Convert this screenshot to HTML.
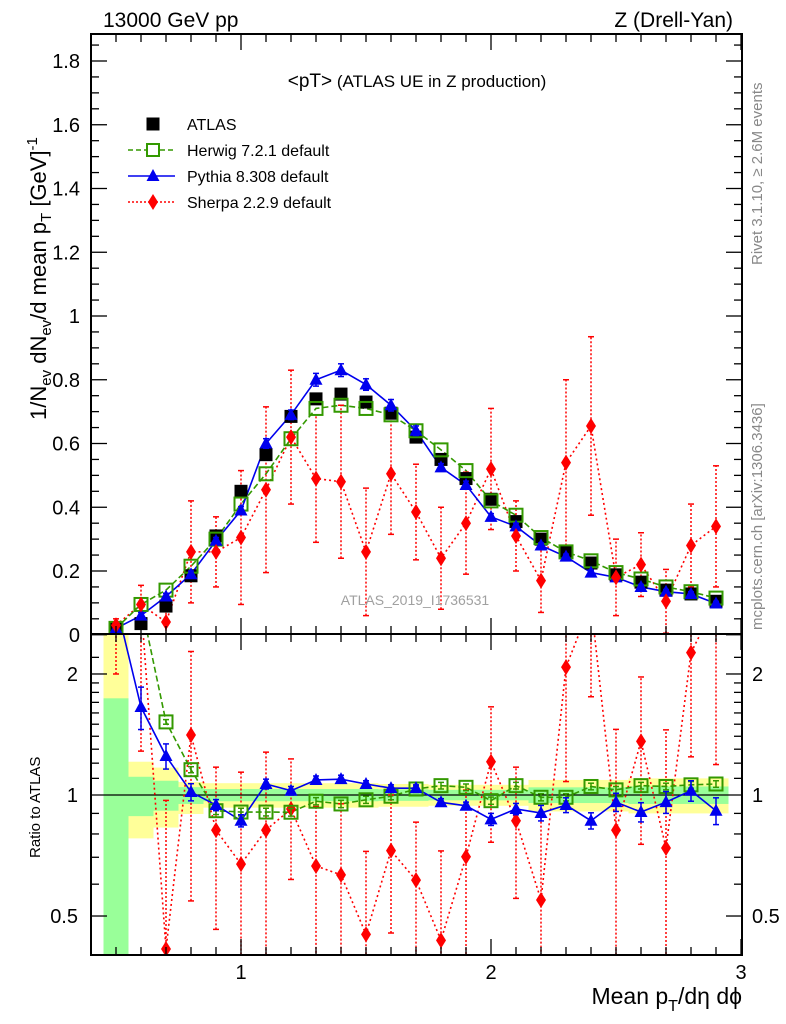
<!DOCTYPE html>
<html><head><meta charset="utf-8">
<style>
html,body{margin:0;padding:0;background:#fff;overflow:hidden;width:786px;height:1024px;}
svg{display:block;font-family:"Liberation Sans",sans-serif;}
</style></head>
<body>
<svg id="chart" width="786" height="1024" viewBox="0 0 786 1024" xmlns="http://www.w3.org/2000/svg">
<g id="bands"></g>
<g id="ratio-series"></g>
<g id="main-series"></g>
<g id="axes"></g>
<text x="103" y="27" font-size="21">13000 GeV pp</text>
<text x="733" y="27" font-size="21" text-anchor="end">Z (Drell-Yan)</text>
<text x="417" y="87" font-size="17" text-anchor="middle"><tspan font-size="19">&lt;pT&gt;</tspan> (ATLAS UE in Z production)</text>
<text x="415" y="605" font-size="14" fill="#a0a0a0" text-anchor="middle">ATLAS_2019_I1736531</text>
<text transform="translate(762,265) rotate(-90)" font-size="15" fill="#888">Rivet 3.1.10, ≥ 2.6M events</text>
<text transform="translate(762,630) rotate(-90)" font-size="15" fill="#888">mcplots.cern.ch [arXiv:1306.3436]</text>
<text transform="translate(46,420) rotate(-90)" font-size="22">1/N<tspan font-size="15" dy="5">ev</tspan><tspan dy="-5"> dN</tspan><tspan font-size="15" dy="5">ev</tspan><tspan dy="-5">/d mean p</tspan><tspan font-size="15" dy="5">T</tspan><tspan dy="-5"> [GeV]</tspan><tspan font-size="15" dy="-9">-1</tspan></text>
<text transform="translate(40,858) rotate(-90)" font-size="15">Ratio to ATLAS</text>
<text x="742" y="1004" font-size="23" text-anchor="end">Mean p<tspan font-size="16" dy="7">T</tspan><tspan dy="-7">/dη dϕ</tspan></text>
<g id="legend"></g>
</svg>
<script>
const categories=[0.5,0.6,0.7,0.8,0.9,1.0,1.1,1.2,1.3,1.4,1.5,1.6,1.7,1.8,1.9,2.0,2.1,2.2,2.3,2.4,2.5,2.6,2.7,2.8,2.9];
const atlasValues=[0.02,0.035,0.09,0.185,0.31,0.45,0.565,0.685,0.74,0.755,0.73,0.695,0.62,0.55,0.49,0.425,0.355,0.30,0.26,0.225,0.188,0.165,0.14,0.128,0.105];
const herwigValues=[0.02,0.095,0.14,0.215,0.30,0.41,0.505,0.615,0.71,0.72,0.71,0.69,0.64,0.58,0.515,0.42,0.375,0.305,0.26,0.232,0.195,0.175,0.15,0.135,0.115];
const pythiaValues=[0.02,0.06,0.12,0.19,0.295,0.39,0.60,0.69,0.80,0.83,0.785,0.72,0.64,0.525,0.47,0.37,0.34,0.28,0.245,0.195,0.18,0.15,0.135,0.128,0.098];
const pythiaErrors=[0.005,0.01,0.01,0.01,0.01,0.012,0.015,0.015,0.02,0.02,0.018,0.018,0.015,0.012,0.012,0.01,0.01,0.008,0.008,0.008,0.008,0.008,0.007,0.007,0.007];
const sherpaValues=[0.03,0.095,0.04,0.26,0.26,0.305,0.455,0.62,0.49,0.48,0.26,0.505,0.385,0.24,0.35,0.52,0.31,0.17,0.54,0.655,0.18,0.22,0.105,0.28,0.34];
const sherpaErrors=[0.02,0.06,0.05,0.16,0.11,0.21,0.26,0.21,0.2,0.24,0.2,0.19,0.15,0.16,0.16,0.19,0.11,0.1,0.26,0.28,0.12,0.1,0.1,0.13,0.19];
const herwigRatio=[3,3,1.52,1.156,0.914,0.907,0.907,0.906,0.965,0.95,0.973,0.993,1.035,1.055,1.045,0.968,1.055,0.987,0.987,1.05,1.03,1.055,1.05,1.06,1.065];
const pythiaRatio=[3,1.655,1.25,1.017,0.944,0.863,1.065,1.025,1.09,1.095,1.065,1.04,1.04,0.959,0.94,0.87,0.923,0.902,0.944,0.863,0.96,0.907,0.96,1.025,0.914];
const pythiaRatioErr=[0.1,0.2,0.09,0.05,0.03,0.03,0.03,0.025,0.025,0.025,0.02,0.02,0.02,0.02,0.02,0.03,0.03,0.04,0.04,0.04,0.05,0.05,0.06,0.06,0.07];
const sherpaRatio=[3,3,0.414,1.41,0.818,0.673,0.818,0.923,0.666,0.633,0.45,0.727,0.614,0.435,0.702,1.21,0.863,0.548,2.08,3,0.818,1.36,0.738,2.26,3];
const yellowHi=[2.6,1.21,1.17,1.077,1.07,1.07,1.07,1.07,1.07,1.07,1.07,1.065,1.065,1.06,1.06,1.06,1.06,1.09,1.09,1.09,1.09,1.1,1.1,1.1,1.1];
const yellowLo=[0.33,0.78,0.83,0.897,0.93,0.93,0.93,0.93,0.93,0.93,0.93,0.935,0.935,0.94,0.94,0.94,0.94,0.91,0.91,0.91,0.91,0.9,0.9,0.9,0.9];
const greenHi=[1.74,1.11,1.085,1.046,1.035,1.035,1.035,1.035,1.035,1.035,1.035,1.033,1.033,1.03,1.03,1.03,1.03,1.045,1.045,1.045,1.045,1.05,1.05,1.05,1.05];
const greenLo=[0.33,0.886,0.914,0.95,0.965,0.965,0.965,0.965,0.965,0.965,0.965,0.967,0.967,0.97,0.97,0.97,0.97,0.955,0.955,0.955,0.955,0.95,0.95,0.95,0.95];
const mainTicks=["0","0.2","0.4","0.6","0.8","1","1.2","1.4","1.6","1.8"];
const ratioTicks=["0.5","1","2"];
const xTicks=["1","2","3"];

const L=91,R=742,T=34,MB=634,RB=955;
const sx=v=>91+(v-0.4)*250;
const sy=v=>634.75-v*318.75;
const ry=r=>795-402*Math.log10(r);
const NS="http://www.w3.org/2000/svg";
function mk(parent,tag,attrs){const e=document.createElementNS(NS,tag);for(const k in attrs)e.setAttribute(k,attrs[k]);parent.appendChild(e);return e;}
const clampR=y=>Math.max(MB,Math.min(RB,y));
const svgEl=document.getElementById('chart');
const defs=mk(svgEl,'defs',{});
const rclip=mk(defs,'clipPath',{id:'rclip'});
mk(rclip,'rect',{x:L,y:MB,width:R-L,height:RB-MB});
const mclip=mk(defs,'clipPath',{id:'mclip'});
mk(mclip,'rect',{x:L,y:T,width:R-L,height:MB-T});

// bands
const gB=document.getElementById('bands');
categories.forEach((c,i)=>{
  let r=mk(gB,'rect',{x:sx(c-0.05),width:25,y:clampR(ry(yellowHi[i])),height:clampR(ry(yellowLo[i]))-clampR(ry(yellowHi[i])),fill:'#ffff99'});
  
  
  let g=mk(gB,'rect',{x:sx(c-0.05),width:25,y:clampR(ry(greenHi[i])),height:clampR(ry(greenLo[i]))-clampR(ry(greenHi[i])),fill:'#99ff99'});
  
  
});

function tri(g,x,y,col){return mk(g,'polygon',{points:`${x},${y-7} ${x-6.5},${y+5} ${x+6.5},${y+5}`,fill:col});}
function dia(g,x,y,col){return mk(g,'polygon',{points:`${x},${y-8} ${x+5},${y} ${x},${y+8} ${x-5},${y}`,fill:col});}
function sq(g,x,y,col,filled){return mk(g,'rect',{x:x-6.5,y:y-6.5,width:13,height:13,fill:filled?col:'none',stroke:col,'stroke-width':filled?0:2});}
function ebar(g,x,y1,y2,col,dash){mk(g,'line',{x1:x,x2:x,y1:y1,y2:y2,stroke:col,'stroke-width':1.5,'stroke-dasharray':dash||'none'});mk(g,'line',{x1:x-3,x2:x+3,y1:y1,y2:y1,stroke:col,'stroke-width':1.5});mk(g,'line',{x1:x-3,x2:x+3,y1:y2,y2:y2,stroke:col,'stroke-width':1.5});}
function line(g,xs,ys,col,dash,w){mk(g,'polyline',{points:xs.map((x,i)=>x+','+ys[i]).join(' '),fill:'none',stroke:col,'stroke-width':w,'stroke-dasharray':dash});}

// ratio panel
const gR=document.getElementById('ratio-series');
gR.setAttribute('clip-path','url(#rclip)');
mk(gR,'line',{x1:L,x2:R,y1:ry(1),y2:ry(1),stroke:'#000','stroke-width':1.3});
line(gR,categories.map(sx),sherpaRatio.map(ry),'#ff0000','2,3',1.6);
line(gR,categories.map(sx),herwigRatio.map(ry),'#339900','6,3',1.6);
line(gR,categories.map(sx),pythiaRatio.map(ry),'#0000ee','none',1.6);
categories.forEach((c,i)=>{
  const x=sx(c);
  const re=sherpaErrors[i]/atlasValues[i];
  ebar(gR,x,ry(Math.max(0.05,sherpaRatio[i]-re)),ry(sherpaRatio[i]+re),'#ff0000','2,2');
  const d=dia(gR,x,ry(sherpaRatio[i]),'#ff0000');
  
  
  ebar(gR,x,ry(herwigRatio[i]-0.02),ry(herwigRatio[i]+0.02),'#339900');
  const s=sq(gR,x,ry(herwigRatio[i]),'#339900',false);
  
  
  ebar(gR,x,ry(pythiaRatio[i]-pythiaRatioErr[i]),ry(pythiaRatio[i]+pythiaRatioErr[i]),'#0000ee');
  const t=tri(gR,x,ry(pythiaRatio[i]),'#0000ee');
  
  
});

// main panel
const gM=document.getElementById('main-series');
gM.setAttribute('clip-path','url(#mclip)');
line(gM,categories.map(sx),sherpaValues.map(sy),'#ff0000','2,3',1.6);
line(gM,categories.map(sx),herwigValues.map(sy),'#339900','6,3',1.6);
line(gM,categories.map(sx),pythiaValues.map(sy),'#0000ee','none',1.6);
categories.forEach((c,i)=>{
  const x=sx(c);
  ebar(gM,x,sy(Math.max(0,sherpaValues[i]-sherpaErrors[i])),sy(sherpaValues[i]+sherpaErrors[i]),'#ff0000','2,2');
  const a=sq(gM,x,sy(atlasValues[i]),'#000',true);
  
  
  const s=sq(gM,x,sy(herwigValues[i]),'#339900',false);
  
  
  ebar(gM,x,sy(pythiaValues[i]-pythiaErrors[i]),sy(pythiaValues[i]+pythiaErrors[i]),'#0000ee');
  const t=tri(gM,x,sy(pythiaValues[i]),'#0000ee');
  
  
  const d=dia(gM,x,sy(sherpaValues[i]),'#ff0000');
  
  
});

// axes
const gA=document.getElementById('axes');
mk(gA,'rect',{x:L,y:T,width:R-L,height:MB-T,fill:'none',stroke:'#000','stroke-width':2});
mk(gA,'rect',{x:L,y:MB,width:R-L,height:RB-MB,fill:'none',stroke:'#000','stroke-width':2});
for(let k=0;k<=37;k++){const v=k*0.05;const y=sy(v);if(y<T)break;const major=(k%4==0);const len=major?16:8;
  mk(gA,'line',{x1:L,x2:L+len,y1:y,y2:y,stroke:'#000','stroke-width':1.3});mk(gA,'line',{x1:R,x2:R-len,y1:y,y2:y,stroke:'#000','stroke-width':1.3});}
mainTicks.forEach(t=>{const e=mk(gA,'text',{x:80,y:sy(parseFloat(t))+7,'font-size':20,'text-anchor':'end'});e.textContent=t;
  
  });
[0.4,0.5,0.6,0.7,0.8,0.9,1.1,1.2,1.3,1.4,1.5,1.6,1.7,1.8,1.9,2,2.2].forEach(r=>{const y=ry(r);if(y<MB||y>RB)return;const major=(r==0.5||r==2);const len=major?16:8;
  mk(gA,'line',{x1:L,x2:L+len,y1:y,y2:y,stroke:'#000','stroke-width':1.3});mk(gA,'line',{x1:R,x2:R-len,y1:y,y2:y,stroke:'#000','stroke-width':1.3});});
ratioTicks.forEach(t=>{const y=ry(parseFloat(t))+7;
  const e=mk(gA,'text',{x:78,y:y,'font-size':20,'text-anchor':'end'});e.textContent=t;
  
  
  const e2=mk(gA,'text',{x:752,y:y,'font-size':20});e2.textContent=t;
  
  });
for(let k=5;k<=30;k++){const v=k/10;const x=sx(v);const major=(k%10==0);const len=major?16:8;
  mk(gA,'line',{x1:x,x2:x,y1:T,y2:T+len,stroke:'#000','stroke-width':1.3});
  mk(gA,'line',{x1:x,x2:x,y1:MB,y2:MB-len,stroke:'#000','stroke-width':1.3});
  mk(gA,'line',{x1:x,x2:x,y1:MB,y2:MB+len,stroke:'#000','stroke-width':1.3});
  mk(gA,'line',{x1:x,x2:x,y1:RB,y2:RB-len,stroke:'#000','stroke-width':1.3});}
xTicks.forEach(t=>{const e=mk(gA,'text',{x:sx(parseFloat(t)),y:979,'font-size':20,'text-anchor':'middle'});e.textContent=t;
  
  });

// legend
const gL=document.getElementById('legend');
const legendNames=["ATLAS","Herwig 7.2.1 default","Pythia 8.308 default","Sherpa 2.2.9 default"];
legendNames.forEach((n,i)=>{const y=124+i*26;const x=153;
  const g=mk(gL,'g',{});
  
  
  if(i==0)sq(g,x,y,'#000',true);
  if(i==1){mk(g,'line',{x1:128,x2:175,y1:y,y2:y,stroke:'#339900','stroke-width':1.5,'stroke-dasharray':'5,3'});mk(g,'rect',{x:x-6,y:y-6,width:12,height:12,fill:'#fff',stroke:'#339900','stroke-width':2});}
  if(i==2){mk(g,'line',{x1:128,x2:175,y1:y,y2:y,stroke:'#0000ee','stroke-width':1.5});tri(g,x,y,'#0000ee');}
  if(i==3){mk(g,'line',{x1:128,x2:175,y1:y,y2:y,stroke:'#ff0000','stroke-width':1.5,'stroke-dasharray':'2,2'});dia(g,x,y,'#ff0000');}
  const t=mk(g,'text',{x:187,y:y+6,'font-size':16});t.textContent=n;});
</script>
</body></html>
